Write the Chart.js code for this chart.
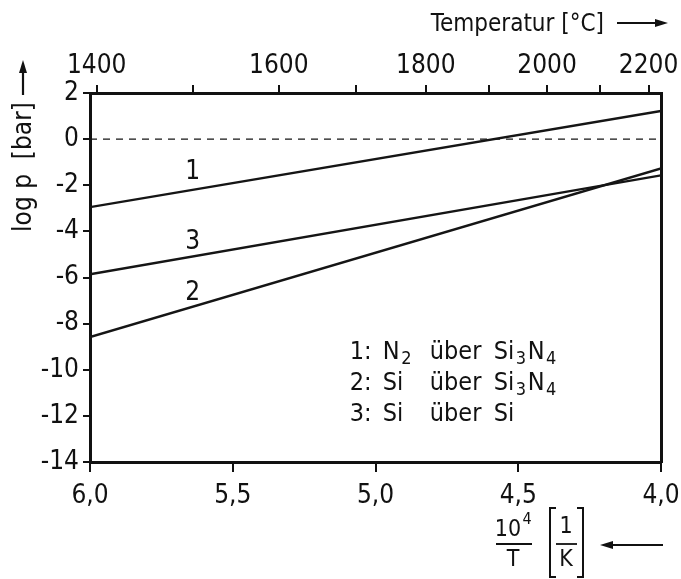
<!DOCTYPE html>
<html>
<head>
<meta charset="utf-8">
<script src="https://cdn.jsdelivr.net/npm/chart.js@4.4.1/dist/chart.umd.min.js"></script>
<style>
  html, body { margin: 0; padding: 0; background: #fff; }
  #wrap { width: 681px; height: 579px; }
</style>
</head>
<body>
<div id="wrap"><canvas id="pressureChart" width="681" height="579"></canvas></div>
<script>
// 10^4/T values at the ends of each line (axis runs from 6,0 down to 4,0)
const invT = [6.0, 4.0];
const logP1 = [-2.95, 1.22];   // 1: N2 über Si3N4
const logP2 = [-8.58, -1.27];  // 2: Si über Si3N4
const logP3 = [-5.86, -1.57];  // 3: Si über Si
const logPZero = [0, 0];

const yTicks = [2, 0, -2, -4, -6, -8, -10, -12, -14];
const xTicks = [6.0, 5.5, 5.0, 4.5, 4.0];
const tempTicks = [1400, 1500, 1600, 1700, 1800, 1900, 2000, 2100, 2200];
const tempLabels = [1400, 1600, 1800, 2000, 2200];

// curve numbers, placed in data units next to each line
const curveTags = [
  { text: '1', x: 5.64, y: -1.44 },
  { text: '3', x: 5.64, y: -4.46 },
  { text: '2', x: 5.64, y: -6.70 }
];

const FONT = '"Liberation Sans Narrow", "DejaVu Sans Condensed", sans-serif';
const INK = '#111';

const toPoints = ys => invT.map((x, i) => ({ x, y: ys[i] }));

function lineSet(ys, dash) {
  return {
    data: toPoints(ys),
    borderColor: '#151515',
    borderWidth: dash ? 1.4 : 2.4,
    borderDash: dash ? [7, 6] : [],
    pointRadius: 0,
    fill: false,
    tension: 0
  };
}

// draws a run of [text, isSubscript] pieces starting at x
function drawRich(ctx, x, y, parts) {
  parts.forEach(([txt, sub]) => {
    ctx.font = (sub ? '18px ' : '25px ') + FONT;
    ctx.fillText(txt, x, sub ? y + 7 : y);
    x += ctx.measureText(txt).width + 1.5;
  });
}

function arrow(ctx, x1, y1, x2, y2) {
  const a = Math.atan2(y2 - y1, x2 - x1);
  const c = Math.cos(a), s = Math.sin(a);
  ctx.beginPath();
  ctx.moveTo(x1, y1);
  ctx.lineTo(x2 - 8 * c, y2 - 8 * s);
  ctx.lineWidth = 2.2;
  ctx.stroke();
  ctx.beginPath();
  ctx.moveTo(x2, y2);
  ctx.lineTo(x2 - 13 * c + 4 * s, y2 - 13 * s - 4 * c);
  ctx.lineTo(x2 - 13 * c - 4 * s, y2 - 13 * s + 4 * c);
  ctx.closePath();
  ctx.fill();
}

const annotations = {
  id: 'annotations',
  afterDraw(chart) {
    const { ctx, scales: { x, y } } = chart;
    ctx.save();
    ctx.fillStyle = INK;
    ctx.strokeStyle = INK;

    // curve numbers
    ctx.font = '26px ' + FONT;
    ctx.textAlign = 'center';
    ctx.textBaseline = 'middle';
    curveTags.forEach(t => ctx.fillText(t.text, x.getPixelForValue(t.x), y.getPixelForValue(t.y)));

    // key
    ctx.textAlign = 'left';
    ctx.textBaseline = 'middle';
    const kx = x.getPixelForValue(5.09);
    const cols = [0, 33, 80, 144];
    const rows = [
      [[['1:', 0]], [['N', 0], ['2', 1]], [['über', 0]], [['Si', 0], ['3', 1], ['N', 0], ['4', 1]]],
      [[['2:', 0]], [['Si', 0]], [['über', 0]], [['Si', 0], ['3', 1], ['N', 0], ['4', 1]]],
      [[['3:', 0]], [['Si', 0]], [['über', 0]], [['Si', 0]]]
    ];
    const rowY = [-9.24, -10.58, -11.93];
    rows.forEach((row, r) => {
      const py = y.getPixelForValue(rowY[r]);
      row.forEach((cell, c) => drawRich(ctx, kx + cols[c], py, cell));
    });

    // top axis title
    ctx.font = '24px ' + FONT;
    ctx.textAlign = 'right';
    ctx.textBaseline = 'alphabetic';
    ctx.fillText('Temperatur [°C]', 604, 31);
    arrow(ctx, 617, 23, 668, 23);

    // left axis title
    ctx.save();
    ctx.translate(31, 167);
    ctx.rotate(-Math.PI / 2);
    ctx.textAlign = 'center';
    ctx.font = '26px ' + FONT;
    ctx.fillText('log p  [bar]', 0, 0);
    ctx.restore();
    arrow(ctx, 23, 95, 23, 60);

    // bottom axis title: 10^4/T [1/K]
    ctx.textAlign = 'center';
    ctx.textBaseline = 'middle';
    ctx.font = '23px ' + FONT;
    ctx.fillText('10', 508, 530);
    ctx.font = '16px ' + FONT;
    ctx.fillText('4', 527, 520);
    ctx.font = '23px ' + FONT;
    ctx.fillText('T', 513, 560);
    ctx.lineWidth = 1.8;
    ctx.beginPath(); ctx.moveTo(496, 544); ctx.lineTo(532, 544); ctx.stroke();
    ctx.fillText('1', 566, 527);
    ctx.fillText('K', 566, 560);
    ctx.beginPath(); ctx.moveTo(556, 544); ctx.lineTo(577, 544); ctx.stroke();
    // brackets
    ctx.lineWidth = 2;
    ctx.beginPath();
    ctx.moveTo(556, 508); ctx.lineTo(550, 508); ctx.lineTo(550, 577); ctx.lineTo(556, 577);
    ctx.moveTo(577, 508); ctx.lineTo(583, 508); ctx.lineTo(583, 577); ctx.lineTo(577, 577);
    ctx.stroke();
    arrow(ctx, 663, 545, 600, 545);

    ctx.restore();
  }
};

const axisBorder = { display: true, color: INK, width: 3 };
const tickFont = { family: FONT, size: 26 };

// keep the plot frame at fixed pixel bounds regardless of label overhang
function fixBox(size) {
  return s => {
    if (s.isHorizontal()) s.height = size; else s.width = size;
    s.paddingLeft = 0; s.paddingRight = 0; s.paddingTop = 0; s.paddingBottom = 0;
  };
}

new Chart(document.getElementById('pressureChart'), {
  type: 'line',
  data: {
    datasets: [
      lineSet(logPZero, true),
      lineSet(logP1),
      lineSet(logP2),
      lineSet(logP3)
    ]
  },
  options: {
    responsive: false,
    animation: false,
    layout: { padding: 0 },
    plugins: { legend: { display: false }, tooltip: { enabled: false } },
    scales: {
      x: {
        type: 'linear',
        position: 'bottom',
        reverse: true,
        min: 4, max: 6,
        afterBuildTicks: s => { s.ticks = xTicks.map(v => ({ value: v })); },
        afterFit: fixBox(117),
        ticks: {
          autoSkip: false, maxRotation: 0, color: INK, font: tickFont, padding: 9,
          callback: v => v.toFixed(1).replace('.', ',')
        },
        grid: { drawOnChartArea: false, drawTicks: true, tickLength: 10, color: INK, lineWidth: 2 },
        border: axisBorder
      },
      x2: {
        type: 'linear',
        position: 'top',
        reverse: true,
        min: 4, max: 6,
        afterBuildTicks: s => { s.ticks = tempTicks.map(t => ({ value: 1e4 / (t + 273.15) })); },
        afterFit: fixBox(93),
        ticks: {
          autoSkip: false, maxRotation: 0, color: INK, font: tickFont, padding: 3,
          callback: v => {
            const t = Math.round(1e4 / v - 273.15);
            return tempLabels.includes(t) ? String(t) : '';
          }
        },
        grid: { drawOnChartArea: false, drawTicks: true, tickLength: 8, color: INK, lineWidth: 2 },
        border: axisBorder
      },
      y: {
        type: 'linear',
        position: 'left',
        min: -14, max: 2,
        afterBuildTicks: s => { s.ticks = yTicks.map(v => ({ value: v })); },
        afterFit: fixBox(90),
        ticks: { autoSkip: false, color: INK, font: tickFont, padding: 4, callback: v => String(v) },
        grid: { drawOnChartArea: false, drawTicks: true, tickLength: 7, color: INK, lineWidth: 2 },
        border: axisBorder
      },
      y2: {
        type: 'linear',
        position: 'right',
        min: -14, max: 2,
        afterFit: fixBox(20),
        ticks: { display: false },
        grid: { display: false },
        border: axisBorder
      }
    }
  },
  plugins: [annotations]
});
</script>
</body>
</html>
